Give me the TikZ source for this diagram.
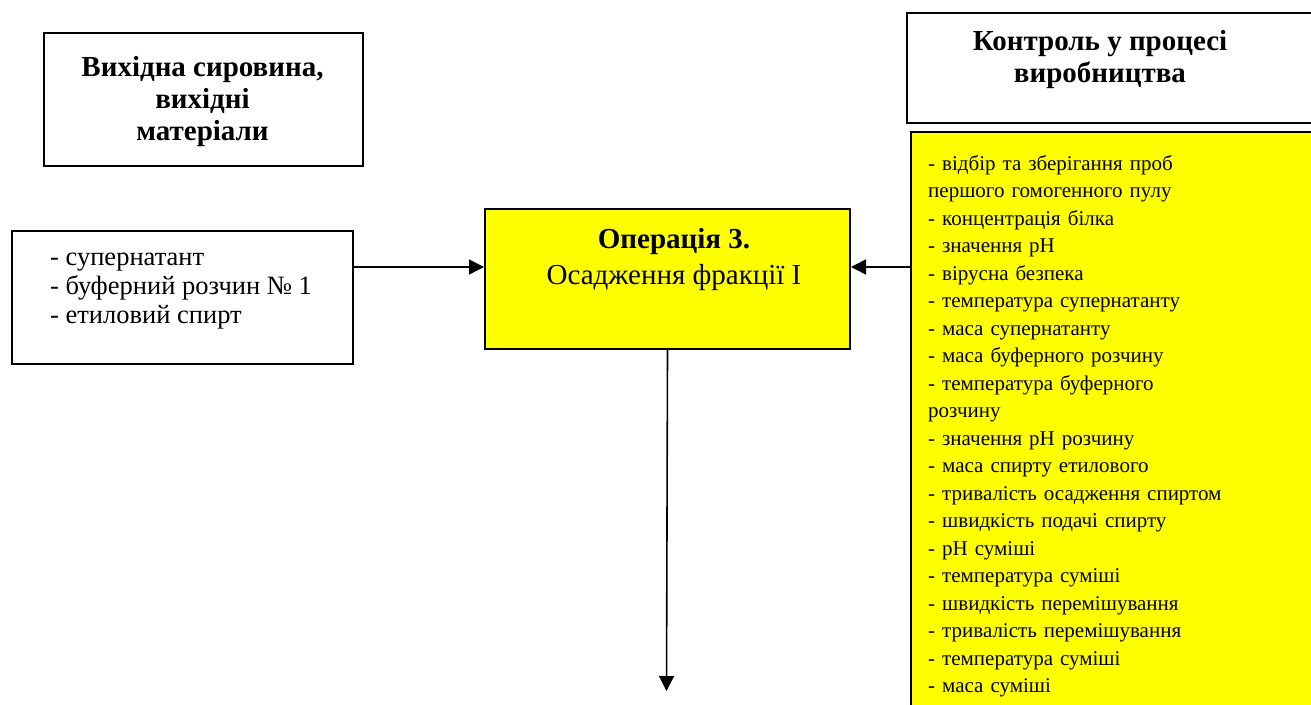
\documentclass[tikz,border=0pt]{standalone}
\usepackage{fontspec}
\setmainfont{Liberation Serif}
\usetikzlibrary{arrows.meta}
\definecolor{opyellow}{RGB}{255,255,0}
\begin{document}
\begin{tikzpicture}[x=1pt,y=-1pt,
  box/.style={draw=black, line width=2pt, rectangle, inner sep=0pt, anchor=north west},
  ybox/.style={box, fill=opyellow},
  txt/.style={inner sep=0pt, align=left, anchor=north west},
  htxt/.style={inner sep=0pt, align=center, anchor=north, font=\bfseries\fontsize{29}{32}\selectfont},
  arr/.style={line width=1.6pt, -{Triangle[length=15pt,width=15pt]}}]
\useasboundingbox (0,0) rectangle (1311,704);
\clip (0,0) rectangle (1311,704);
\fill[white] (0,0) rectangle (1311,704);

% source header
\node[box, minimum width=319pt, minimum height=133pt] (srcbox) at (43,32) {};
\node[htxt] (srctxt) at (202.5,53.6) {\strut Вихідна сировина,\\вихідні\\матеріали};

% inputs
\node[box, minimum width=341pt, minimum height=133pt] (inbox) at (11,230) {};
\node[txt, font=\fontsize{26.5}{29}\selectfont] (intxt) at (50,244.7)
  {\strut - супернатант\\- буферний розчин № 1\\- етиловий спирт};

% operation
\node[ybox, minimum width=365pt, minimum height=140pt] (op) at (484,208) {};
\node[inner sep=0pt, align=center, anchor=north, font=\fontsize{29}{36}\selectfont] (optxt) at (674,222.8)
  {\strut\textbf{Операція 3.}\\Осадження фракції І};

% control header
\node[box, minimum width=440pt, minimum height=110pt] (ctrlhead) at (906,12) {};
\node[htxt] (ctrltxt) at (1100,27.6) {\strut Контроль у процесі\\виробництва};

% control list
\node[ybox, minimum width=440pt, minimum height=620pt] (ctrlbox) at (910,131) {};
\node[txt, text width=380pt, font=\fontsize{21}{27.5}\selectfont] (ctrllist) at (928,150.75)
  {\strut - відбір та зберігання проб\\
   першого гомогенного пулу\\
   - концентрація білка\\
   - значення рН\\
   - вірусна безпека\\
   - температура супернатанту\\
   - маса супернатанту\\
   - маса буферного розчину\\
   - температура буферного\\
   розчину\\
   - значення рН розчину\\
   - маса спирту етилового\\
   - тривалість осадження спиртом\\
   - швидкість подачі спирту\\
   - рН суміші\\
   - температура суміші\\
   - швидкість перемішування\\
   - тривалість перемішування\\
   - температура суміші\\
   - маса суміші};

% connectors
\coordinate (outend) at (666.5,691);
\draw[arr] ([yshift=-37pt]inbox.north east) -- ([yshift=-59pt]op.north west);
\draw[arr] ([yshift=-136pt]ctrlbox.north west) -- ([yshift=-59pt]op.north east);
\draw[arr] (op.south) -- (outend);
\end{tikzpicture}
\end{document}
